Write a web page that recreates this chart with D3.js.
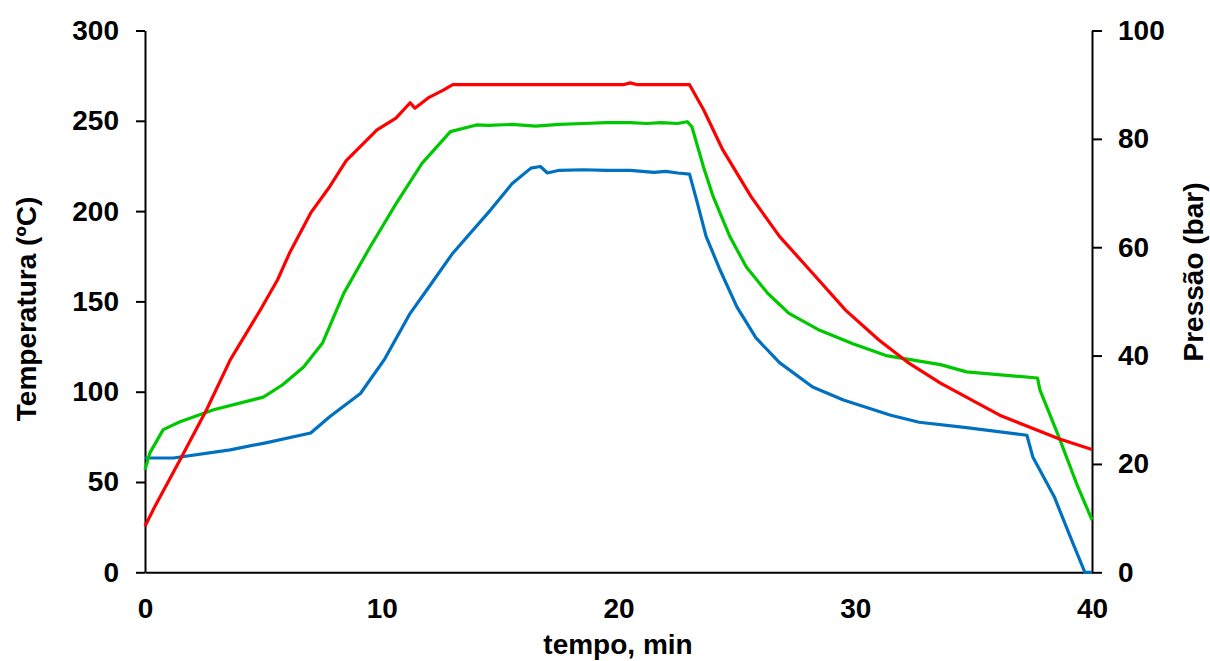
<!DOCTYPE html>
<html>
<head>
<meta charset="utf-8">
<script src="https://cdn.jsdelivr.net/npm/d3@7"></script>
<style>
body { margin: 0; background: #fff; }
text { font-family: 'Liberation Sans', Arial, sans-serif; font-weight: bold; fill: #000; }
.axis path, .axis line { stroke: #000; stroke-width: 2; }
.axis text { font-size: 28px; }
.serie { fill: none; stroke-width: 3.2; stroke-linejoin: round; }
</style>
</head>
<body>
<svg width="1210" height="661"></svg>
<script>
// time (min) / values
var redT = [0, 0.4, 1.55, 2.6, 3.6, 4.86, 5.6, 6.1, 7.0, 7.8, 8.5, 9.8, 10.6, 11.2, 11.4, 12.0, 12.6, 13.0,
            17, 20.2, 20.5, 20.8, 23.0, 23.6, 24.4, 25.6, 26.8, 28.2, 29.6, 31.0, 32.2, 33.6, 36.1, 38.6, 40];
var redTemp = [25.5, 36, 64, 90, 117.6, 145, 162, 176.6, 199, 213.5, 228, 245, 251.5, 260, 257, 263, 267, 270,
            270, 270, 271, 270, 270, 256, 234, 208, 186, 165.6, 145, 128.6, 116.4, 104.8, 87, 74, 68];

var greenT = [0, 0.2, 0.77, 1.48, 2.9, 5.0, 5.8, 6.7, 7.5, 8.4, 9.5, 10.6, 11.7, 12.9, 14.0,
              14.5, 15.5, 16.5, 17.5, 18.5, 19.5, 20.5, 21.2, 21.8, 22.5, 22.9,
              23.1, 23.6, 24.0, 24.7, 25.4, 26.3, 27.2, 28.5, 29.9, 31.3, 33.6, 34.7, 37.7, 37.8, 38.6, 39.4, 40];
var greenTemp = [56.7, 66, 79, 83.4, 90, 97, 103.7, 113.7, 127, 154.6, 180, 204, 226.4, 244, 247.7,
              247.5, 248, 247, 248, 248.5, 249, 249, 248.5, 249, 248.5, 249.5,
              246.7, 224, 208, 186, 169, 154.5, 143.4, 134, 126.6, 120, 115, 111, 107.6, 101, 75, 47.4, 29];

// blue is the pressure, in bar (right axis)
var blueT = [0, 1.2, 3.6, 5.1, 7.0, 7.8, 9.1, 10.1, 11.2, 12.0, 13.0, 14.6, 15.5, 16.3, 16.7, 17.0,
             17.5, 18.5, 19.5, 20.5, 21.5, 22.0, 22.5, 23.0,
             23.3, 23.7, 24.3, 25.0, 25.8, 26.8, 28.2, 29.5, 31.5, 32.7, 34.7, 37.25, 37.5, 38.4, 39.2, 39.7, 40];
var bluePress = [21.1, 21.1, 22.6, 23.9, 25.7, 28.7, 33, 39.2, 47.8, 52.7, 58.9, 66.9, 71.7, 74.6, 74.9, 73.7,
             74.2, 74.3, 74.2, 74.2, 73.8, 74, 73.7, 73.5,
             68.7, 62, 55.7, 49, 43.3, 38.7, 34.2, 31.8, 29, 27.7, 26.7, 25.3, 21.3, 14, 5.3, 0, 0];

var xTicks = [0, 10, 20, 30, 40];
var yLeftTicks = [0, 50, 100, 150, 200, 250, 300];
var yRightTicks = [0, 20, 40, 60, 80, 100];

var svg = d3.select('svg');

var xScale = d3.scaleLinear().domain([0, 40]).range([145, 1092]);
var yScale = d3.scaleLinear().domain([0, 300]).range([572.3, 30.5]);
var y2Scale = d3.scaleLinear().domain([0, 100]).range([572.3, 30.5]);

// axes
var xAxisG = svg.append('g')
    .attr('class', 'x axis')
    .attr('transform', 'translate(0,' + yScale(0) + ')')
    .call(d3.axisBottom(xScale).tickValues(xTicks).tickSize(0).tickPadding(26));

var yAxisG = svg.append('g')
    .attr('class', 'y axis')
    .attr('transform', 'translate(' + xScale(0) + ',0)')
    .call(d3.axisLeft(yScale).tickValues(yLeftTicks).tickSize(9).tickSizeOuter(0).tickPadding(17));

var y2AxisG = svg.append('g')
    .attr('class', 'y2 axis')
    .attr('transform', 'translate(' + xScale(40) + ',0)')
    .call(d3.axisRight(y2Scale).tickValues(yRightTicks).tickSize(10).tickSizeOuter(0).tickPadding(16));

// lines
function makeLine(ts, vs, ys) {
    var pts = ts.map(function(t, i) { return [t, vs[i]]; });
    return d3.line()
        .x(function(d) { return xScale(d[0]); })
        .y(function(d) { return ys(d[1]); })(pts);
}

svg.append('path').attr('class', 'serie')
    .attr('stroke', '#0070c0')
    .attr('d', makeLine(blueT, bluePress, y2Scale));
svg.append('path').attr('class', 'serie')
    .attr('stroke', '#00c800')
    .attr('d', makeLine(greenT, greenTemp, yScale));
svg.append('path').attr('class', 'serie')
    .attr('stroke', '#ff0000')
    .attr('d', makeLine(redT, redTemp, yScale));

// titles
svg.append('text')
    .attr('x', 618).attr('y', 654)
    .attr('text-anchor', 'middle')
    .style('font-size', '28px')
    .text('tempo, min');

svg.append('text')
    .attr('transform', 'translate(26,309) rotate(-90)')
    .attr('text-anchor', 'middle')
    .attr('dy', '0.35em')
    .style('font-size', '28px')
    .text('Temperatura (ºC)');

svg.append('text')
    .attr('transform', 'translate(1193,272) rotate(-90)')
    .attr('text-anchor', 'middle')
    .attr('dy', '0.35em')
    .style('font-size', '28px')
    .text('Pressão (bar)');
</script>
</body>
</html>
